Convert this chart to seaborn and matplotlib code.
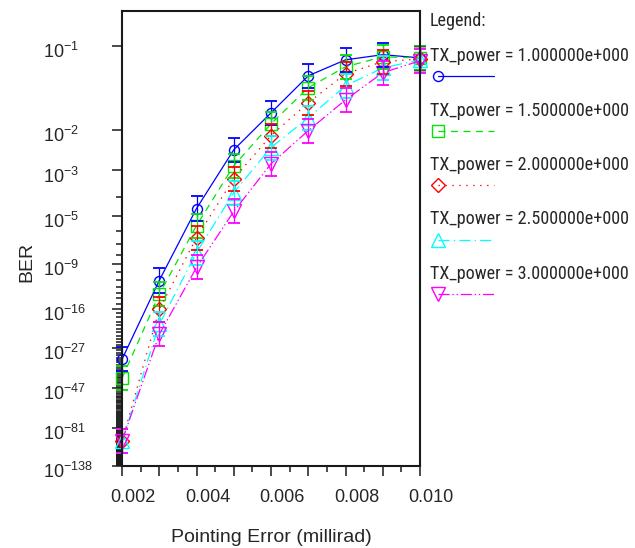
import math

import numpy as np
import pandas as pd
import seaborn as sns
import matplotlib
matplotlib.use("Agg")
from matplotlib import pyplot as plt
from matplotlib import font_manager, ticker
from matplotlib.lines import Line2D
from matplotlib.transforms import ScaledTranslation

# data
pointing_error = [0.002, 0.003, 0.004, 0.005, 0.006, 0.007, 0.008, 0.009, 0.010]
tx_power = [1.0, 1.5, 2.0, 2.5, 3.0]

ber_tx_1_0 = [2.3e-32, 7.9e-12, 2.6e-5, 3.8e-3, 0.0200, 0.0571, 0.0792, 0.0869, 0.0821]
ber_tx_1_5 = [1.0e-41, 5.1e-14, 2.5e-6, 1.4e-3, 0.0132, 0.0428, 0.0692, 0.0837, 0.0821]
ber_tx_2_0 = [1.0e-98, 6.3e-17, 3.3e-7, 5.3e-4, 0.0079, 0.0279, 0.0598, 0.0765, 0.0805]
ber_tx_2_5 = [1.0e-98, 1.8e-20, 1.6e-8, 1.5e-4, 0.0043, 0.0167, 0.0450, 0.0676, 0.0792]
ber_tx_3_0 = [1.0e-98, 2.7e-23, 4.0e-10, 1.8e-5, 0.0016, 0.0099, 0.0305, 0.0612, 0.0777]

# half width of the error bars, in decades of the Q factor
q_spread = 0.037

ytick_exponents = [1, 2, 3, 5, 9, 16, 27, 47, 81, 138]

colors = ["#0000FF", "#00E600", "#FF0000", "#00FFFF", "#FF00FF"]
marker_list = ["o", "s", "D", "^", "v"]
marker_sizes = [7.2, 8, 7.0, 10, 10]
dash_list = ["", (5, 4), (1, 4), (8, 3, 1, 3), (8, 2, 1, 2, 1, 2)]


# BER axis of OptiSystem: linear in log10(Q), BER = 0.5 * erfc(Q / sqrt(2))
_erfc = np.vectorize(math.erfc, otypes=[float])


def q_to_ber(q):
    return 0.5 * _erfc(np.asarray(q, dtype=float) / math.sqrt(2))


def ber_to_q(ber):
    b = np.clip(np.asarray(ber, dtype=float), 1e-300, 0.4999)
    lo = np.zeros_like(b)
    hi = np.full_like(b, 40.0)
    for _ in range(60):
        mid = 0.5 * (lo + hi)
        above = q_to_ber(mid) > b
        lo = np.where(above, mid, lo)
        hi = np.where(above, hi, mid)
    return 0.5 * (lo + hi)


def forward(ber):
    return -np.log10(ber_to_q(ber))


def inverse(v):
    return q_to_ber(10.0 ** (-np.asarray(v, dtype=float)))


def power_label(p):
    mant, exp = f"{p:.6e}".split("e")
    return f"TX_power = {mant}e{exp[0]}{int(exp[1:]):03d}"


sns.set_style("ticks")
plt.rcParams["font.family"] = ["Liberation Sans", "DejaVu Sans"]
plt.rcParams["mathtext.fontset"] = "custom"
plt.rcParams["mathtext.rm"] = "Liberation Sans"
plt.rcParams["mathtext.it"] = "Liberation Sans:italic"
plt.rcParams["mathtext.bf"] = "Liberation Sans:bold"
plt.rcParams["lines.scale_dashes"] = False

installed = {f.name for f in font_manager.fontManager.ttflist}
legend_family, legend_size = "Liberation Sans", 11.5
for name in ["Liberation Sans Narrow", "Roboto Condensed", "Open Sans Condensed"]:
    if name in installed:
        legend_family, legend_size = name, 13.1
        break

series = [ber_tx_1_0, ber_tx_1_5, ber_tx_2_0, ber_tx_2_5, ber_tx_3_0]
labels = [power_label(p) for p in tx_power]

df = pd.DataFrame({
    "pointing_error": np.tile(pointing_error, len(tx_power)),
    "BER": np.concatenate(series),
    "label": np.repeat(labels, len(pointing_error)),
})

palette = dict(zip(labels, colors))
markers = dict(zip(labels, marker_list))
dashes = dict(zip(labels, dash_list))

fig, ax = plt.subplots(figsize=(6.35, 5.48), dpi=100)
fig.subplots_adjust(left=122 / 635, right=420 / 635, top=1 - 11.3 / 548, bottom=1 - 465.7 / 548)
ax.set_yscale("function", functions=(forward, inverse))

sns.lineplot(data=df, x="pointing_error", y="BER", hue="label", style="label",
             palette=palette, markers=markers, dashes=dashes, sort=False,
             legend=False, lw=0.9, ax=ax)

series_lines = list(ax.lines)
for line, ms in zip(series_lines, marker_sizes):
    c = line.get_color()
    line.set_markerfacecolor("none")
    line.set_markeredgecolor(c)
    line.set_markeredgewidth(1.0)
    line.set_markersize(ms)
    line.set_clip_on(False)

# error bars: drawn from their ends, tiny BERs would cancel out in yerr form
for label, ber in zip(labels, series):
    q = ber_to_q(ber)
    low = q_to_ber(q * 10 ** q_spread)
    high = q_to_ber(q / 10 ** q_spread)
    c = palette[label]
    ax.vlines(pointing_error, low, high, colors=c, lw=0.9, clip_on=False)
    for ends in (low, high):
        ax.plot(pointing_error, ends, ls="none", marker="_", ms=8.6, mew=1.3,
                color=c, clip_on=False)

ax.set_xlim(pointing_error[0], pointing_error[-1])
ax.set_ylim(10.0 ** -ytick_exponents[-1], q_to_ber(1.0))

ax.xaxis.set_major_locator(ticker.FixedLocator(pointing_error))
ax.xaxis.set_minor_locator(ticker.MultipleLocator(0.0005))
ax.xaxis.set_major_formatter(ticker.FuncFormatter(
    lambda v, pos: f"{v:.3f}" if round(v * 1000) % 2 == 0 else ""))

ax.yaxis.set_major_locator(ticker.FixedLocator([10.0 ** -e for e in ytick_exponents]))
ax.yaxis.set_minor_locator(ticker.FixedLocator(
    [10.0 ** -e for e in range(1, ytick_exponents[-1] + 1) if e not in ytick_exponents]))
ax.yaxis.set_major_formatter(ticker.FuncFormatter(
    lambda v, pos: f"$10^{{-{round(-math.log10(v))}}}$"))
ax.yaxis.set_minor_formatter(ticker.NullFormatter())

ax.tick_params(which="both", direction="out", color="#1a1a1a", width=1.1)
ax.tick_params(which="major", length=7)
ax.tick_params(which="minor", length=4)
ax.tick_params(axis="x", which="major", pad=10, labelsize=13)
ax.tick_params(axis="y", which="major", pad=50, labelsize=13)
for s in ax.spines.values():
    s.set_linewidth(1.5)
    s.set_color("#1a1a1a")

xshift = ScaledTranslation(11 / 100, 0, fig.dpi_scale_trans)
for lab in ax.get_xticklabels():
    lab.set_transform(lab.get_transform() + xshift)
yshift = ScaledTranslation(0, -4 / 100, fig.dpi_scale_trans)
for lab in ax.get_yticklabels():
    lab.set_horizontalalignment("left")
    lab.set_transform(lab.get_transform() + yshift)

ax.set_xlabel("Pointing Error (millirad)", fontsize=14)
ax.xaxis.set_label_coords(0.5, -0.14)
ax.set_ylabel("BER", fontsize=14)
ax.yaxis.set_label_coords(-0.292, 0.448)

# legend, OptiSystem style: label on one row, sample line below it
fig.text(430 / 635, 1 - 21 / 548, "Legend:", family=legend_family, fontsize=legend_size, va="center")
for i, (line, label) in enumerate(zip(series_lines, labels)):
    ty = 1 - (56 + 54.5 * i) / 548
    hy = 1 - (76 + 54.5 * i) / 548
    fig.text(430 / 635, ty, label, family=legend_family, fontsize=legend_size, va="center")
    h = Line2D([438 / 635, 494 / 635], [hy, hy])
    h.update_from(line)
    h.set_transform(fig.transFigure)
    h.set_markevery([0])
    h.set_clip_on(False)
    fig.add_artist(h)

fig.savefig("out.png", dpi=100)
